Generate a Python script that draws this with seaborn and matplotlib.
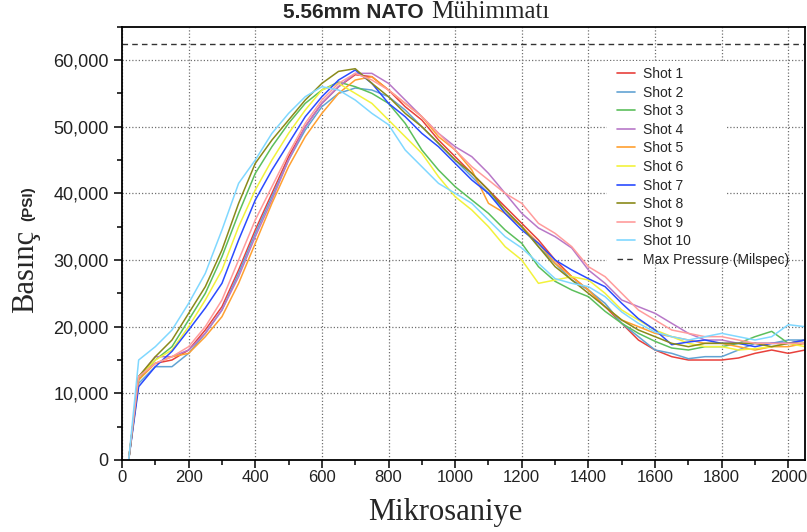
import matplotlib
matplotlib.use("Agg")
import matplotlib.pyplot as plt
import numpy as np
import pandas as pd
import seaborn as sns
from matplotlib.ticker import MultipleLocator, FuncFormatter
from matplotlib.patches import Rectangle
from matplotlib.lines import Line2D

# ---------------- data ----------------
micros = [20, 50, 100, 150, 200, 250, 300, 350, 400, 450, 500, 550, 600, 650, 700,
          750, 800, 850, 900, 950, 1000, 1050, 1100, 1150, 1200, 1250, 1300, 1350,
          1400, 1450, 1500, 1550, 1600, 1650, 1700, 1750, 1800, 1850, 1900, 1950,
          2000, 2050]

shot_1 = [0, 12500, 14500, 15000, 16500, 19500, 23000, 28500, 34500, 40000,
          45500, 50000, 53500, 56000, 57800, 57500, 55500, 53000, 51000, 48000,
          45500, 43000, 40500, 38000, 35500, 33000, 30000, 27500, 25500, 23000,
          20500, 18000, 16500, 15500, 15000, 15000, 15000, 15300, 16000, 16500,
          16000, 16500]
shot_2 = [0, 11500, 14000, 14000, 16000, 19000, 22500, 28000, 34000, 39500,
          45000, 49500, 53000, 55000, 55800, 55500, 54500, 52500, 50000, 47500,
          45000, 42500, 40000, 37500, 35000, 32000, 29500, 27000, 25500, 23500,
          20500, 18500, 16500, 16000, 15200, 15500, 15500, 16500, 17500, 17500,
          18000, 18000]
shot_3 = [0, 12000, 15000, 17000, 21000, 25000, 30500, 37000, 43000, 47000,
          50500, 53500, 55500, 56700, 56000, 55000, 53500, 50500, 46500, 43500,
          41000, 39000, 37000, 34500, 32500, 29000, 26800, 25500, 24500, 22300,
          20500, 19000, 17800, 16800, 16500, 17000, 17000, 17500, 18500, 19300,
          17500, 18000]
shot_4 = [0, 12500, 15500, 15500, 16500, 19000, 22500, 27500, 33500, 39000,
          45000, 50000, 53500, 56000, 58000, 58000, 56500, 54000, 51500, 49000,
          47000, 45500, 43000, 40000, 37000, 34800, 33500, 31800, 28500, 26500,
          24000, 23000, 22000, 20500, 19000, 18000, 18000, 17500, 17500, 17500,
          17500, 18000]
shot_5 = [0, 12000, 14500, 15500, 16000, 18500, 21500, 26500, 32500, 38500,
          44000, 48500, 52000, 55000, 57000, 57500, 55500, 53500, 51500, 48500,
          46500, 43500, 38500, 37000, 35000, 32500, 29500, 27500, 25500, 23000,
          21000, 20000, 19000, 18500, 18000, 17500, 17500, 17000, 16500, 17000,
          17000, 17500]
shot_6 = [0, 12500, 15000, 16500, 20000, 24000, 28500, 35000, 40500, 45000,
          49000, 52500, 55500, 56500, 55000, 53500, 51000, 48500, 46000, 42500,
          39500, 37500, 35000, 32000, 30000, 26500, 27000, 27500, 27000, 25000,
          22500, 21000, 19500, 18500, 17500, 17000, 17000, 16500, 16700, 17000,
          17500, 17000]
shot_7 = [0, 11000, 14000, 16300, 19500, 22800, 26500, 33000, 39000, 43500,
          47500, 51500, 54500, 57000, 58500, 56500, 53500, 51500, 49000, 47000,
          44500, 42000, 40000, 37000, 34500, 32500, 30000, 28500, 27200, 26000,
          23500, 21200, 19500, 17300, 17700, 18000, 17500, 17500, 17000, 17500,
          17500, 18000]
shot_8 = [0, 12500, 15500, 18000, 22000, 26000, 31500, 38500, 44500, 48000,
          51000, 54000, 56500, 58300, 58700, 56500, 54500, 52000, 50000, 47500,
          45000, 43000, 40500, 37500, 35000, 32000, 29000, 27000, 25000, 23000,
          21000, 19500, 18500, 17500, 17000, 17500, 17500, 17500, 17500, 17000,
          17500, 17500]
shot_9 = [0, 12500, 14500, 15500, 17000, 20000, 24000, 30000, 36000, 41000,
          46000, 50500, 54000, 56500, 58000, 57000, 55500, 53500, 51500, 49000,
          46500, 44000, 42000, 40000, 38500, 35500, 34000, 32000, 29000, 27500,
          25000, 22500, 21000, 19500, 19000, 18500, 18500, 18000, 17500, 17500,
          17500, 17500]
shot_10 = [0, 15000, 17000, 19500, 23500, 28000, 34500, 41500, 45000, 49000,
           52000, 54500, 56000, 55500, 54000, 52000, 50300, 46500, 44000, 41500,
           40000, 38500, 36000, 33500, 31800, 29500, 27200, 26500, 26000, 24500,
           22200, 20500, 19200, 18500, 18000, 18500, 19000, 18500, 18000, 18500,
           20300, 20000]

shot_names = ["Shot 1", "Shot 2", "Shot 3", "Shot 4", "Shot 5",
              "Shot 6", "Shot 7", "Shot 8", "Shot 9", "Shot 10"]
shot_colors = ["#e8413c", "#62a3d3", "#5cbf5c", "#b878c8", "#ffa030",
               "#f2f23c", "#2a4bff", "#8a8a1a", "#ff9c9c", "#80d8ff"]
max_pressure = 62366
max_label = "Max Pressure (Milspec)"

series = [shot_1, shot_2, shot_3, shot_4, shot_5,
          shot_6, shot_7, shot_8, shot_9, shot_10]
frames = []
for name, vals in zip(shot_names, series):
    frames.append(pd.DataFrame({"t": micros, "p": vals, "Shot": name}))
df = pd.concat(frames, ignore_index=True)

# ---------------- style ----------------
sns.set_theme(style="ticks")
plt.rcParams["font.family"] = ["Liberation Sans", "DejaVu Sans"]

W, H = 807, 532
fig = plt.figure(figsize=(W / 100, H / 100), dpi=100)
ax_left, ax_right, ax_top, ax_bot = 122, 805, 26.7, 460
ax = fig.add_axes([ax_left / W, (H - ax_bot) / H,
                   (ax_right - ax_left) / W, (ax_bot - ax_top) / H])

sns.lineplot(data=df, x="t", y="p", hue="Shot", hue_order=shot_names,
             palette=dict(zip(shot_names, shot_colors)), estimator=None,
             sort=False, linewidth=1.1, legend=False, ax=ax)
ax.axhline(max_pressure, color="#333333", linestyle=(0, (4, 3)), linewidth=1.0)

ax.set_xlim(0, 2050)
ax.set_ylim(0, 65000)
ax.set_xlabel("")
ax.set_ylabel("")

ax.xaxis.set_major_locator(MultipleLocator(200))
ax.xaxis.set_minor_locator(MultipleLocator(100))
ax.yaxis.set_major_locator(MultipleLocator(10000))
ax.yaxis.set_minor_locator(MultipleLocator(5000))
ax.yaxis.set_major_formatter(FuncFormatter(lambda v, p: f"{int(v):,}"))

ax.set_axisbelow(True)
ax.grid(True, which="major", color="#707070", linestyle=(0, (1, 1.6)), linewidth=0.9)

ax.tick_params(axis="both", which="major", direction="out", length=6, width=1.1,
               color="black", labelcolor="#222222")
ax.tick_params(axis="both", which="minor", direction="out", length=3.5, width=1.1,
               color="black")
ax.tick_params(axis="y", which="major", labelsize=13, pad=3.5)
ax.tick_params(axis="x", which="major", labelsize=12, pad=1.5)
for s in ax.spines.values():
    s.set_visible(True)
    s.set_color("black")
    s.set_linewidth(1.3)

# white area behind the legend (hides grid there)
def ax_xy(px, py):
    return ((px - ax_left) / (ax_right - ax_left), (ax_bot - py) / (ax_bot - ax_top))

x0, y0 = ax_xy(607, 263)
x1, y1 = ax_xy(726, 61)
ax.add_patch(Rectangle((x0, y0), x1 - x0, y1 - y0, transform=ax.transAxes,
                       facecolor="white", edgecolor="none", zorder=1))

handles = [Line2D([], [], color=c, linewidth=1.2) for c in shot_colors]
handles.append(Line2D([], [], color="#333333", linestyle=(0, (4, 3)), linewidth=1.0))
labels = shot_names + [max_label]
lx, ly = ax_xy(617, 67)
ax.legend(handles, labels, loc="upper left", bbox_to_anchor=(lx, ly),
          frameon=False, fontsize=10, handlelength=1.3, handletextpad=0.55,
          labelspacing=0.33, borderpad=0, borderaxespad=0)

# ---------------- texts ----------------
fig.text(424 / W, 1 - 18 / H, "5.56mm NATO", ha="right", va="baseline",
         fontsize=15, fontweight="bold", family="Liberation Sans")
fig.text(431 / W, 1 - 18 / H, "Mühimmatı", ha="left", va="baseline",
         fontsize=18, family="Liberation Serif")

fig.text(33 / W, 1 - 313 / H, "Basınç", rotation=90, rotation_mode="anchor",
         ha="left", va="baseline", fontsize=22, family="Liberation Serif")
fig.text(32 / W, 1 - 221 / H, "(PSI)", rotation=90, rotation_mode="anchor",
         ha="left", va="baseline", fontsize=11, fontweight="bold",
         family="Liberation Sans")

fig.text(445 / W, 1 - 520 / H, "Mikrosaniye", ha="center", va="baseline",
         fontsize=22, family="Liberation Serif")

fig.savefig("out.png", dpi=100)
